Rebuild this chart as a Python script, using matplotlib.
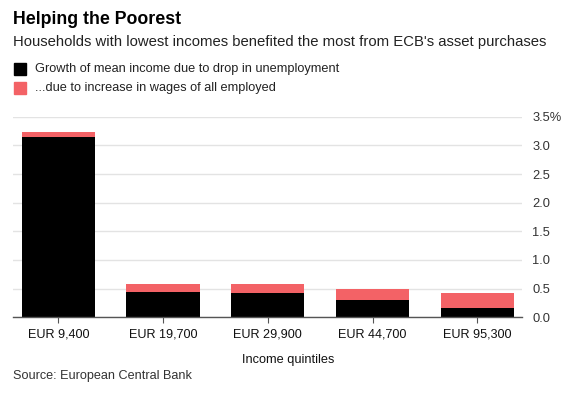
import matplotlib
matplotlib.use("Agg")
import matplotlib.pyplot as plt
from matplotlib.patches import Rectangle

plt.rcParams['font.family'] = ['Liberation Sans', 'DejaVu Sans']

# data (percent)
quintiles = ["EUR 9,400", "EUR 19,700", "EUR 29,900", "EUR 44,700", "EUR 95,300"]
unemployment = [3.14, 0.45, 0.42, 0.30, 0.16]
wages = [0.09, 0.13, 0.16, 0.19, 0.26]
yticks = [0.0, 0.5, 1.0, 1.5, 2.0, 2.5, 3.0, 3.5]
ytick_labels = ["0.0", "0.5", "1.0", "1.5", "2.0", "2.5", "3.0", "3.5%"]

RED = "#f36266"
GRID = "#e3e3e3"
W, H = 570, 395

fig = plt.figure(figsize=(5.7, 3.95), dpi=100)
ax = fig.add_axes([12.7 / W, 1 - 317.3 / H, 509 / W, 200.6 / H])

x = range(len(quintiles))
ax.bar(x, unemployment, width=0.7, color="black", zorder=3)
ax.bar(x, wages, width=0.7, bottom=unemployment, color=RED, zorder=3)

ax.set_xlim(-0.435, 4.424)
ax.set_ylim(0, 3.5)
ax.set_yticks(yticks)
ax.set_yticklabels(ytick_labels)
ax.yaxis.tick_right()
ax.grid(axis="y", color=GRID, linewidth=1, zorder=0)
ax.tick_params(axis="y", length=0, pad=7.5, labelsize=9.3, labelcolor="#333333")
ax.set_xticks(list(x))
ax.set_xticklabels(quintiles)
ax.tick_params(axis="x", length=4, width=0.8, color="#555555", pad=4,
               labelsize=9.1, labelcolor="#111111")
for side in ["top", "left", "right"]:
    ax.spines[side].set_visible(False)
ax.spines["bottom"].set_color("#555555")
ax.spines["bottom"].set_linewidth(1)
ax.spines["bottom"].set_zorder(4)

fig.text(288 / W, 1 - 360 / H, "Income quintiles", fontsize=9.2, color="#111111",
         va="center", ha="center")

fig.text(12.7 / W, 1 - 19.5 / H, "Helping the Poorest", fontsize=12.8,
         fontweight="bold", va="center", ha="left")
fig.text(12.7 / W, 1 - 42 / H,
         "Households with lowest incomes benefited the most from ECB's asset purchases",
         fontsize=10.7, va="center", ha="left", color="#222222")

# legend
for i, (label, col) in enumerate([("Growth of mean income due to drop in unemployment", "black"),
                                   ("...due to increase in wages of all employed", RED)]):
    yc = 69 + i * 18.5
    fig.patches.append(Rectangle((14.3 / W, 1 - (yc + 6) / H), 11.7 / W, 11.7 / H,
                                 transform=fig.transFigure, color=col))
    fig.text(35 / W, 1 - yc / H, label, fontsize=9.2, va="center", ha="left",
             color="#222222")

fig.text(12.7 / W, 1 - 376 / H, "Source: European Central Bank", fontsize=9.1,
         va="center", ha="left", color="#333333")

fig.savefig("out.png", dpi=100)
